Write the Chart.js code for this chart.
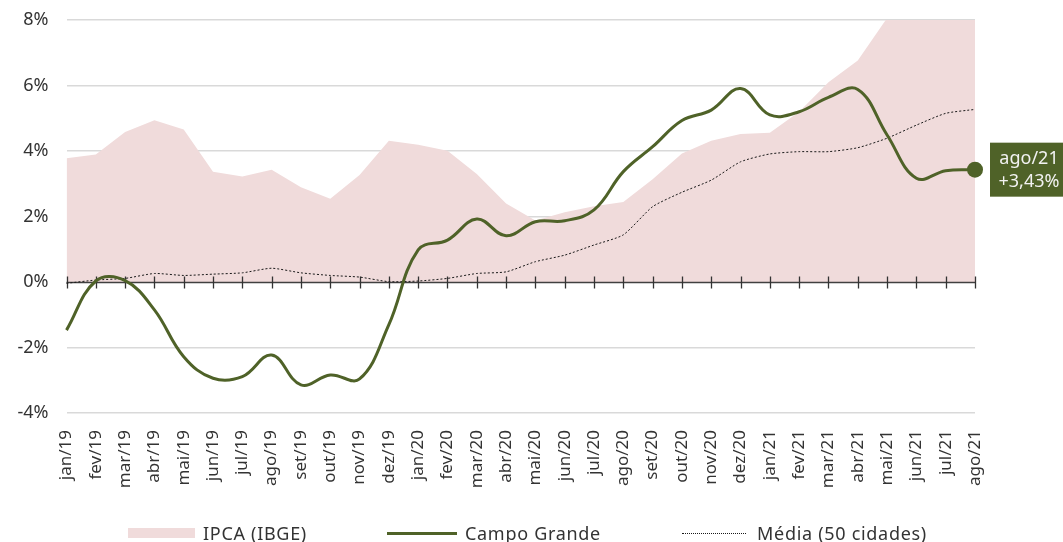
<!DOCTYPE html>
<html>
<head>
<meta charset="utf-8">
<title>IPCA, Campo Grande e Média (50 cidades)</title>
<script src="https://cdn.jsdelivr.net/npm/chart.js@4.4.1/dist/chart.umd.min.js"></script>
<style>
  html, body { margin: 0; padding: 0; background: #ffffff; }
  #wrap { position: relative; width: 1063px; height: 542px; overflow: hidden; }
  #chart { position: absolute; left: 0; top: 0; }
  #legend { position: absolute; left: 0; top: 521px; width: 1063px; height: 24px;
            font-family: 'Noto Sans', sans-serif; font-size: 18px; letter-spacing: 0.7px; color: #333333; }
  .lg-item { position: absolute; top: 0; height: 24px; display: flex; align-items: center; white-space: nowrap; }
  .lg-mark { display: inline-block; margin-right: 8px; }
</style>
</head>
<body>
<div id="wrap">
  <canvas id="chart" width="1063" height="542"></canvas>
  <div id="legend"></div>
</div>
<script>
// Meses (eixo x)
const months = [
  'jan/19','fev/19','mar/19','abr/19','mai/19','jun/19','jul/19','ago/19','set/19','out/19','nov/19','dez/19',
  'jan/20','fev/20','mar/20','abr/20','mai/20','jun/20','jul/20','ago/20','set/20','out/20','nov/20','dez/20',
  'jan/21','fev/21','mar/21','abr/21','mai/21','jun/21','jul/21','ago/21'
];

// IPCA acumulado em 12 meses (%)
const ipca = [
  3.78, 3.89, 4.58, 4.94, 4.66, 3.37, 3.22, 3.43, 2.89, 2.54, 3.27, 4.31,
  4.19, 4.01, 3.30, 2.40, 1.88, 2.13, 2.31, 2.44, 3.14, 3.92, 4.31, 4.52,
  4.56, 5.20, 6.10, 6.76, 8.06, 8.35, 8.99, 9.68
];

// Campo Grande (%)
const campoGrande = [
  -1.47, 0.03, 0.04, -0.85, -2.28, -2.94, -2.89, -2.23, -3.14, -2.84, -2.96, -1.30,
  0.98, 1.28, 1.92, 1.41, 1.84, 1.87, 2.20, 3.37, 4.13, 4.93, 5.25, 5.91,
  5.10, 5.20, 5.64, 5.88, 4.49, 3.17, 3.40, 3.43
];

// Média das 50 cidades (%)
const media = [
  -0.04, 0.06, 0.11, 0.26, 0.20, 0.24, 0.28, 0.42, 0.28, 0.20, 0.15, 0.01,
  0.03, 0.11, 0.26, 0.31, 0.62, 0.82, 1.13, 1.44, 2.30, 2.74, 3.11, 3.67,
  3.91, 3.98, 3.98, 4.10, 4.39, 4.79, 5.15, 5.27
];

// Valores do eixo y (%)
const yTicks = [-4, -2, 0, 2, 4, 6, 8];

const FONT = "'Noto Sans', sans-serif";
const TEXT = '#333333';
const GREEN = '#4f6228';
const PINK = '#f0dbdb';

// Linha do zero com marcas de escala, desenhada logo acima da área do IPCA
const zeroAxis = {
  id: 'zeroAxis',
  afterDatasetDraw(chart, args) {
    if (args.index !== 0) return;
    const { ctx, chartArea, scales } = chart;
    const y0 = Math.round(scales.y.getPixelForValue(0)) + 0.5;
    ctx.save();
    ctx.strokeStyle = '#404040';
    ctx.lineWidth = 1.5;
    ctx.beginPath();
    ctx.moveTo(chartArea.left, y0);
    ctx.lineTo(chartArea.right, y0);
    ctx.stroke();
    ctx.lineWidth = 1.3;
    ctx.strokeStyle = '#333333';
    ctx.beginPath();
    scales.x.ticks.forEach((t, i) => {
      const x = Math.round(scales.x.getPixelForTick(i)) + 0.5;
      ctx.moveTo(x, y0 - 6);
      ctx.lineTo(x, y0 + 6);
    });
    ctx.stroke();
    ctx.restore();
  }
};

// Caixa com o último valor de Campo Grande
const lastValueBox = {
  id: 'lastValueBox',
  afterDatasetsDraw(chart) {
    const idx = 1;
    const meta = chart.getDatasetMeta(idx);
    const data = chart.data.datasets[idx].data;
    const last = data.length - 1;
    const pt = meta.data[last];
    if (!pt) return;
    const { ctx } = chart;
    const left = pt.x + 15;
    const top = pt.y - 27;
    ctx.save();
    ctx.fillStyle = GREEN;
    ctx.fillRect(left, top, 80, 54);
    ctx.fillStyle = '#f2f2f2';
    ctx.font = '18px ' + FONT;
    ctx.textAlign = 'center';
    ctx.textBaseline = 'middle';
    const cx = left + 39;
    const v = data[last];
    const txt = (v >= 0 ? '+' : '') + v.toFixed(2).replace('.', ',') + '%';
    ctx.fillText(chart.data.labels[last], cx, pt.y - 11);
    ctx.fillText(txt, cx, pt.y + 12);
    ctx.restore();
  }
};

const chart = new Chart(document.getElementById('chart'), {
  type: 'line',
  data: {
    labels: months,
    datasets: [
      {
        label: 'IPCA (IBGE)',
        data: ipca,
        fill: 'origin',
        backgroundColor: PINK,
        borderWidth: 0,
        borderColor: PINK,
        pointRadius: 0,
        tension: 0,
        order: 2
      },
      {
        label: 'Campo Grande',
        data: campoGrande,
        borderColor: GREEN,
        backgroundColor: GREEN,
        borderWidth: 3,
        tension: 0.4,
        fill: false,
        clip: false,
        pointRadius: (c) => (c.dataIndex === campoGrande.length - 1 ? 8 : 0),
        pointBorderWidth: 0,
        pointBackgroundColor: GREEN,
        order: 0
      },
      {
        label: 'Média (50 cidades)',
        data: media,
        borderColor: '#1a1a1a',
        borderWidth: 1,
        borderDash: [2, 2],
        tension: 0.2,
        fill: false,
        pointRadius: 0,
        order: 1
      }
    ]
  },
  options: {
    responsive: false,
    animation: false,
    layout: { padding: { top: 20, right: 88, bottom: 0, left: 0 } },
    plugins: {
      legend: { display: false },
      tooltip: { enabled: false }
    },
    scales: {
      x: {
        grid: { display: false },
        border: { display: false },
        ticks: {
          autoSkip: false,
          maxRotation: 90,
          minRotation: 90,
          padding: 9,
          color: TEXT,
          font: { family: FONT, size: 17 }
        },
        afterFit(s) { s.height = 129; }
      },
      y: {
        min: -4,
        max: 8,
        afterBuildTicks(s) { s.ticks = yTicks.map(v => ({ value: v })); },
        grid: {
          color: (c) => (c.tick && c.tick.value === 0 ? 'rgba(0,0,0,0)' : '#d9d9d9'),
          lineWidth: 1.5,
          drawTicks: false
        },
        border: { display: false },
        ticks: {
          padding: 18,
          color: TEXT,
          font: { family: FONT, size: 18 },
          callback: (v) => v + '%'
        },
        afterFit(s) {
          s.width = 66.5;
          s.paddingTop = 0;
          s.paddingBottom = 0;
        }
      }
    }
  },
  plugins: [zeroAxis, lastValueBox]
});

// Legenda
const legendLeft = [128, 387, 682];
const legend = document.getElementById('legend');
chart.data.datasets.forEach((ds, i) => {
  const item = document.createElement('div');
  item.className = 'lg-item';
  item.style.left = legendLeft[i] + 'px';
  const mark = document.createElement('span');
  mark.className = 'lg-mark';
  if (i === 0) {
    mark.style.width = '67px';
    mark.style.height = '10px';
    mark.style.background = ds.backgroundColor;
  } else if (i === 1) {
    mark.style.width = '70px';
    mark.style.height = '0px';
    mark.style.borderTop = '3px solid ' + ds.borderColor;
  } else {
    mark.style.width = '64px';
    mark.style.height = '0px';
    mark.style.borderTop = '1px dotted ' + ds.borderColor;
    mark.style.marginRight = '11px';
  }
  item.appendChild(mark);
  const txt = document.createElement('span');
  txt.textContent = ds.label;
  item.appendChild(txt);
  legend.appendChild(item);
});
</script>
</body>
</html>
